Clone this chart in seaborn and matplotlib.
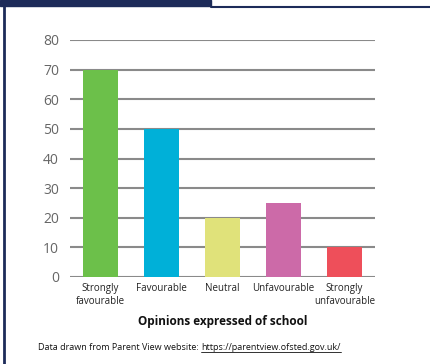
import matplotlib
matplotlib.use("Agg")
import matplotlib.pyplot as plt
import seaborn as sns
import pandas as pd
from matplotlib.patches import Rectangle
from matplotlib.lines import Line2D

categories = ["Strongly\nfavourable", "Favourable", "Neutral", "Unfavourable", "Strongly\nunfavourable"]
values = [70, 50, 20, 25, 10]
colors = ["#6cc04a", "#00b0d8", "#e0e27a", "#cc6aa8", "#ee4f5a"]
y_ticks = [0, 10, 20, 30, 40, 50, 60, 70, 80]

sns.set_theme(style="white")
plt.rcParams["font.family"] = ["Open Sans", "DejaVu Sans"]

W, H = 430, 364
fig = plt.figure(figsize=(W / 100, H / 100), dpi=100)

# Panel frame: dark header tab, thin top rule and left edge
navy = "#1d2b59"
fig.patches.append(Rectangle((0, 1 - 6 / H), 211 / W, 6 / H, transform=fig.transFigure,
                             color=navy, zorder=0))
fig.lines.append(Line2D([211 / W, 1], [1 - 6.5 / H, 1 - 6.5 / H], transform=fig.transFigure,
                        color=navy, lw=1.5))
fig.lines.append(Line2D([4 / W, 4 / W], [0, 1], transform=fig.transFigure,
                        color=navy, lw=2))

ax = fig.add_axes([70 / W, 1 - 277 / H, 305 / W, (277 - 40) / H])
df = pd.DataFrame({"cat": categories, "val": values})
sns.barplot(data=df, x="cat", y="val", hue="cat", palette=colors, legend=False,
            width=0.56, saturation=1, linewidth=0, edgecolor="none", ax=ax, zorder=3)

ax.set_ylim(0, 80)
ax.set_xlim(-0.5, 4.5)
ax.set_yticks(y_ticks)
ax.grid(axis="y", color="#8a8a8a", lw=1.5, zorder=0)
ax.set_axisbelow(True)
for s in ax.spines.values():
    s.set_visible(False)
ax.tick_params(axis="y", length=0, pad=8, labelsize=10, labelcolor="#666666")
ax.tick_params(axis="x", length=0, pad=4, labelsize=7, labelcolor="#222222")
for lbl in ax.get_xticklabels():
    lbl.set_linespacing(1.3)
ax.set_ylabel("")
ax.set_xlabel("Opinions expressed of school", fontsize=8.5, fontweight="bold",
              color="#111111", labelpad=6)

# Source note with underlined link
note_y = 1 - 348 / H
prefix = fig.text(38 / W, note_y, "Data drawn from Parent View website: ", fontsize=6.5,
                  color="#111111", va="center", ha="left")
fig.canvas.draw()
r = fig.canvas.get_renderer()
bb = prefix.get_window_extent(r)
url = fig.text(bb.x1 / W, note_y, "https://parentview.ofsted.gov.uk/", fontsize=6.5,
               color="#111111", va="center", ha="left")
ub = url.get_window_extent(r)
fig.lines.append(Line2D([ub.x0 / W, ub.x1 / W], [(ub.y0 + 1) / H, (ub.y0 + 1) / H],
                        transform=fig.transFigure, color="#111111", lw=0.6))

fig.savefig("out.png", dpi=100, facecolor="white")
